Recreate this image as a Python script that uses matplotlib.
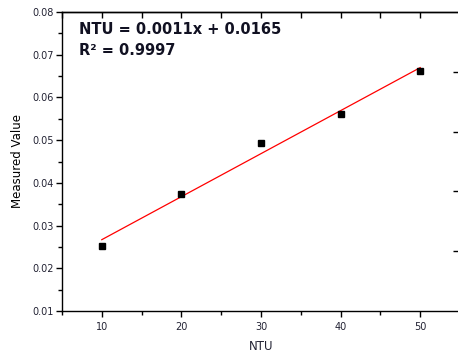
import numpy as np
import matplotlib
matplotlib.use("Agg")
import matplotlib.pyplot as plt
from matplotlib.ticker import MultipleLocator

ntu = [10, 20, 30, 40, 50]
measured = [0.0252, 0.0374, 0.0493, 0.0561, 0.0662]
x_ticks = [10, 20, 30, 40, 50]
y_ticks = [0.01, 0.02, 0.03, 0.04, 0.05, 0.06, 0.07, 0.08]
eq_text = "NTU = 0.0011x + 0.0165"
r2_text = "R\u00b2 = 0.9997"

fig = plt.figure(figsize=(4.58, 3.54), dpi=100)
ax = fig.add_axes([62/458, 1-311/354, (460-62)/458, (311-12)/354])

tcol = '#222233'
slope, intercept = np.polyfit(ntu, measured, 1)
xf = np.array([min(ntu), max(ntu)])
ax.plot(xf, slope*xf + intercept, color='red', lw=0.9, zorder=2)
ax.plot(ntu, measured, 's', color='black', ms=5, zorder=3)

ax.set_xlim(5, 55)
ax.set_ylim(0.01, 0.08)
ax.set_xticks(x_ticks)
ax.set_yticks(y_ticks)
ax.set_xticklabels([str(v) for v in x_ticks])
ax.set_yticklabels([f"{v:.2f}" for v in y_ticks])
ax.xaxis.set_minor_locator(MultipleLocator(5))
ax.yaxis.set_minor_locator(MultipleLocator(0.005))
ax.tick_params(axis='both', which='major', direction='out', length=4, width=1,
               labelsize=7, labelcolor=tcol, pad=2)
ax.tick_params(axis='x', which='major', pad=4)
ax.tick_params(axis='both', which='minor', direction='out', length=3, width=1)
ax.tick_params(axis='x', which='both', top=False)
ax.spines['right'].set_visible(False)
for s in ['left', 'bottom', 'top']:
    ax.spines[s].set_linewidth(1)

top = ax.secondary_xaxis('top')
top.set_xticks(x_ticks)
top.xaxis.set_minor_locator(MultipleLocator(5))
top.tick_params(which='both', direction='in', length=4, labeltop=False, width=1)
top.spines['top'].set_linewidth(1)

ax2 = ax.twinx()
ax2.set_ylim(0, 1)
ax2.set_yticks([0.2, 0.4, 0.6, 0.8])
ax2.tick_params(axis='y', direction='in', length=5, width=1, labelright=False)
for s in ax2.spines.values():
    s.set_visible(False)

ax.set_xlabel("NTU", fontsize=8.5, color=tcol, labelpad=6)
ax.set_ylabel("Measured Value", fontsize=8.5, color='black', labelpad=6)

ax.text(79/458, 1-34/354, eq_text, transform=fig.transFigure, fontsize=10.5,
        fontweight='bold', color='#111122', va='baseline', ha='left')
ax.text(79/458, 1-55/354, r2_text, transform=fig.transFigure, fontsize=10.5,
        fontweight='bold', color='#111122', va='baseline', ha='left')

fig.savefig("out.png", dpi=100)
